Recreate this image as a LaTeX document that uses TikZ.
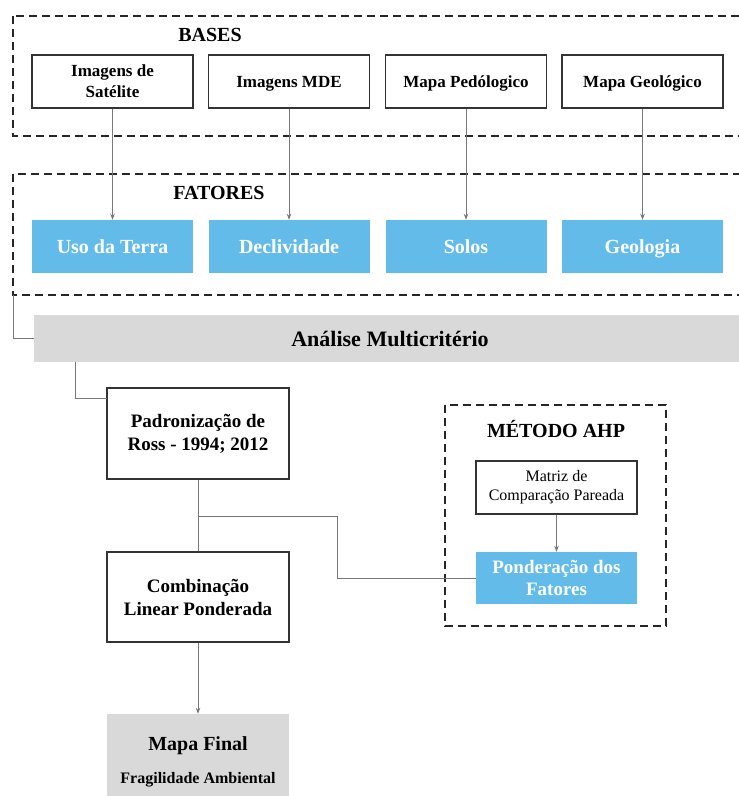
\documentclass[tikz,border=0pt]{standalone}
\usepackage{fontspec}
\setmainfont{Liberation Serif}
\usepackage{tikz}
\usetikzlibrary{arrows.meta}
\definecolor{fgblue}{RGB}{99, 187, 234}
\definecolor{fggray}{RGB}{217, 217, 217}
\definecolor{fgline}{RGB}{120, 120, 120}
\definecolor{fgedge}{RGB}{51, 51, 51}

\begin{document}
\begin{tikzpicture}[x=1pt, y=-1pt,
  base/.style={draw=fgedge, line width=1.1pt, minimum width=161pt, minimum height=53pt,
    inner sep=0pt, align=center, font=\bfseries\fontsize{17}{21}\selectfont},
  fator/.style={fill=fgblue, text=white, minimum width=161pt, minimum height=53pt,
    inner sep=0pt, align=center, font=\bfseries\fontsize{20}{22}\selectfont},
  linha/.style={text height=#1, text depth=0pt},
  etapa/.style={draw=fgedge, line width=1.1pt, minimum width=182pt, minimum height=91pt,
    inner sep=0pt, align=center, font=\bfseries\fontsize{19}{23}\selectfont},
  grupo/.style={line width=2.2pt, dash pattern=on 8pt off 5pt, black!85},
  titulo/.style={font=\bfseries\fontsize{20}{24}\selectfont},
  liga/.style={draw=fgline, line width=0.9pt},
  seta/.style={liga, -{Stealth[length=6pt, width=4.5pt]}}]
\clip (0,0) rectangle (739,796);

% Bases
\draw[grupo] (13,16) rectangle (750,136);
\node[titulo] (tbases) at (210,35) {BASES};
\node[base] (sat) at (112.5,81.5) {Imagens de\\Satélite};
\node[base, linha=11.5pt] (mde) at (289,81.5) {Imagens MDE};
\node[base, linha=11.5pt] (ped) at (466,81.5) {Mapa Pedólogico};
\node[base, linha=11.5pt] (geo) at (642.5,81.5) {Mapa Geológico};

% Fatores
\draw[grupo] (13,174) rectangle (750,295);
\node[titulo] (tfatores) at (219,193) {FATORES};
\node[fator, linha=13pt] (uso) at (112.5,246.5) {Uso da Terra};
\node[fator, linha=13pt] (decl) at (289,246.5) {Declividade};
\node[fator, linha=13pt] (solos) at (466,246.5) {Solos};
\node[fator, linha=13pt] (geol) at (642.5,246.5) {Geologia};

\draw[seta] (sat) -- (uso);
\draw[seta] (mde) -- (decl);
\draw[seta] (ped) -- (solos);
\draw[seta] (geo) -- (geol);

% Analise multicriterio
\node[fill=fggray, minimum width=712pt, minimum height=47pt, inner sep=0pt,
  font=\bfseries\fontsize{22}{26}\selectfont] (amc) at (390,338.5) {Análise Multicritério};
\coordinate (fatout) at (13,295);
\draw[liga] (fatout) |- (amc.west);

% Padronizacao e combinacao
\node[etapa] (pad) at (198,433.5) {Padronização de\\Ross - 1994; 2012};
\node[etapa, minimum height=90pt] (comb) at (198,597) {Combinação\\Linear Ponderada};
\coordinate (amcout) at (75,362);
\coordinate (padin) at (107,398);
\draw[liga] (amcout) |- (padin);
\draw[liga] (pad) -- (comb);

% Metodo AHP
\draw[grupo] (445,405) rectangle (666,626);
\node[titulo] (tahp) at (556,429) {MÉTODO AHP};
\node[draw=fgedge, line width=1.1pt, minimum width=161pt, minimum height=53pt, inner sep=0pt,
  align=center, font=\fontsize{16}{19}\selectfont] (matriz) at (556.5,487.5)
  {Matriz de\\Comparação Pareada};
\node[fator, minimum height=52pt, font=\bfseries\fontsize{19}{22}\selectfont] (pond)
  at (556.5,578) {Ponderação dos\\Fatores};
\draw[seta] (matriz) -- (pond);
\coordinate (split) at (198,516);
\draw[liga] (split) -- (337,516) |- (pond.west);

% Mapa final
\node[fill=fggray, minimum width=182pt, minimum height=96pt, inner sep=0pt, align=center]
  (final) at (198,762) {\bfseries\fontsize{20}{24}\selectfont Mapa Final\\[17pt]
  \bfseries\fontsize{16}{19}\selectfont Fragilidade Ambiental};
\draw[seta] (comb) -- (final);
\end{tikzpicture}
\end{document}
